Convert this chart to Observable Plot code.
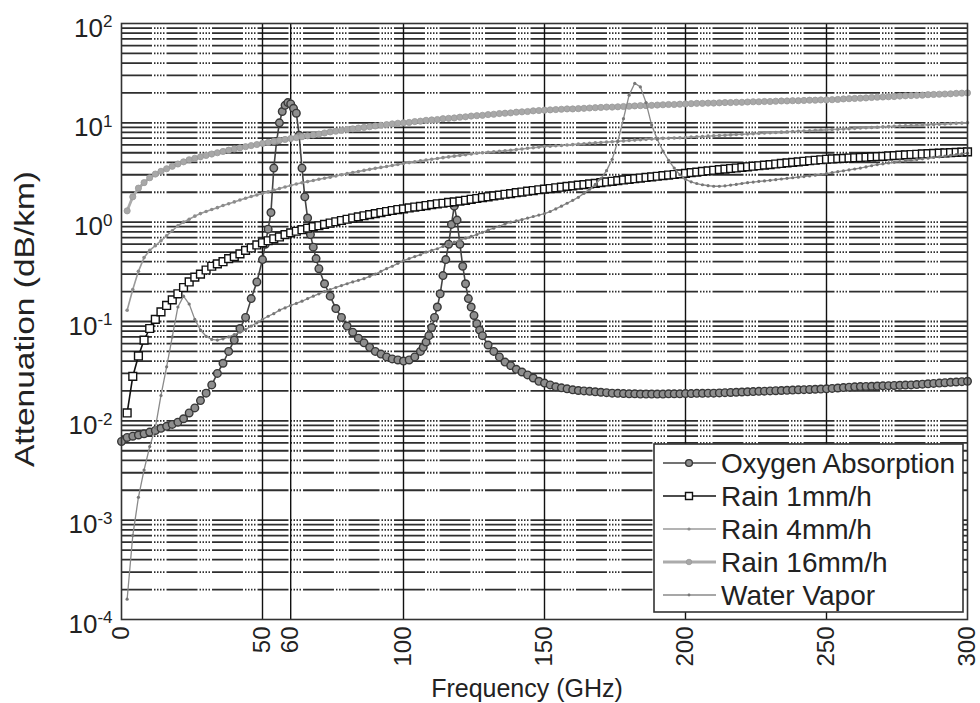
<!DOCTYPE html>
<html>
<head>
<meta charset="utf-8">
<script src="https://cdn.jsdelivr.net/npm/d3@7"></script>
<script src="https://cdn.jsdelivr.net/npm/@observablehq/plot@0.6"></script>
<style>
  body { margin: 0; background: #fff; }
  #chart { position: relative; width: 980px; height: 703px; }
  #chart svg { overflow: visible; }
</style>
</head>
<body>
<div id="chart"></div>
<script>
// Tick and grid positions
const xTickValues = [0, 50, 60, 100, 150, 200, 250, 300];
const xGridValues = [50, 60, 100, 150, 200, 250];
const yDecades = [1e-4, 1e-3, 1e-2, 1e-1, 1, 10, 100];

const seriesNames = ["Oxygen Absorption", "Rain 1mm/h", "Rain 4mm/h", "Rain 16mm/h", "Water Vapor"];

// Oxygen absorption (dB/km), sampled finer around the 60 and 118.75 GHz lines
const oxygenGHz = [
  ...d3.range(0, 50, 2), ...d3.range(50, 71, 1), ...d3.range(72, 107, 2),
  ...d3.range(107, 129, 1), ...d3.range(130, 301, 2)
];
const oxygenDb = [
  // 0 – 48 GHz
  0.0062, 0.0068, 0.0070, 0.0072, 0.0074, 0.0077, 0.0080, 0.0084, 0.0088, 0.0092,
  0.0097, 0.0105, 0.012, 0.0135, 0.016, 0.019, 0.023, 0.030, 0.038, 0.050,
  0.065, 0.085, 0.11, 0.17, 0.25,
  // 50 – 70 GHz
  0.42, 0.60, 0.85, 1.25, 3.5, 6.5, 10, 13, 15, 16, 15.5, 14, 12.5, 7.5, 3.5, 1.8, 1.1, 0.75, 0.56, 0.43, 0.34,
  // 72 – 106 GHz
  0.24, 0.18, 0.135, 0.11, 0.09, 0.078, 0.068, 0.061, 0.055, 0.05, 0.047, 0.044, 0.042, 0.041, 0.040, 0.041, 0.044, 0.05,
  // 107 – 128 GHz
  0.055, 0.062, 0.072, 0.087, 0.11, 0.14, 0.19, 0.29, 0.42, 0.6, 0.95, 1.45, 1.05, 0.6, 0.36, 0.24, 0.17, 0.14, 0.115, 0.095, 0.082, 0.072,
  // 130 – 300 GHz
  0.058, 0.050, 0.044, 0.039, 0.036, 0.033, 0.031, 0.029, 0.027, 0.025,
  0.024, 0.023, 0.022, 0.0215, 0.021, 0.0205, 0.0202, 0.020, 0.0198, 0.0196,
  0.0194, 0.0192, 0.019, 0.0189, 0.0188, 0.0187, 0.0187, 0.0186, 0.0186, 0.0186,
  0.0186, 0.0186, 0.0187, 0.0187, 0.0187, 0.0188, 0.0188, 0.0189, 0.0189, 0.019,
  0.019, 0.0191, 0.0192, 0.0193, 0.0194, 0.0195, 0.0196, 0.0197, 0.0198, 0.0199,
  0.020, 0.0201, 0.0202, 0.0203, 0.0204, 0.0205, 0.0206, 0.0207, 0.0208, 0.0209,
  0.021, 0.0212, 0.0214, 0.0216, 0.0218, 0.022, 0.0221, 0.0222, 0.0223, 0.0224,
  0.0225, 0.0226, 0.0227, 0.0228, 0.0229, 0.023, 0.0232, 0.0234, 0.0236, 0.0238,
  0.024, 0.0242, 0.0244, 0.0246, 0.0248, 0.025
];

// Rain and water vapour share a 2 GHz frequency grid (2 … 300 GHz)
const gridGHz = d3.range(2, 301, 2);

const rain1Db = [
  0.012, 0.028, 0.045, 0.065, 0.085, 0.105, 0.125, 0.145, 0.165, 0.19,
  0.22, 0.25, 0.28, 0.30, 0.33, 0.36, 0.38, 0.40, 0.43, 0.45,
  0.48, 0.52, 0.55, 0.59, 0.62, 0.65, 0.68, 0.71, 0.75, 0.78,
  0.81, 0.84, 0.87, 0.90, 0.92, 0.95, 0.98, 1.01, 1.04, 1.07,
  1.10, 1.13, 1.16, 1.19, 1.22, 1.25, 1.28, 1.31, 1.34, 1.36,
  1.39, 1.42, 1.44, 1.47, 1.50, 1.53, 1.55, 1.58, 1.60, 1.63,
  1.66, 1.70, 1.73, 1.77, 1.80, 1.84, 1.87, 1.91, 1.94, 1.98,
  2.01, 2.05, 2.08, 2.12, 2.15, 2.18, 2.22, 2.25, 2.29, 2.32,
  2.36, 2.39, 2.43, 2.46, 2.50, 2.54, 2.58, 2.62, 2.66, 2.70,
  2.74, 2.78, 2.82, 2.86, 2.90, 2.94, 2.98, 3.02, 3.06, 3.10,
  3.15, 3.19, 3.24, 3.28, 3.33, 3.38, 3.42, 3.47, 3.51, 3.56,
  3.61, 3.66, 3.70, 3.75, 3.80, 3.85, 3.90, 3.95, 4.00, 4.05,
  4.10, 4.15, 4.20, 4.25, 4.30, 4.33, 4.36, 4.39, 4.42, 4.45,
  4.48, 4.51, 4.54, 4.57, 4.60, 4.64, 4.68, 4.72, 4.76, 4.80,
  4.83, 4.86, 4.89, 4.92, 4.95, 4.98, 5.01, 5.04, 5.07, 5.10
];

const rain4Db = [
  0.13, 0.21, 0.32, 0.44, 0.52, 0.58, 0.65, 0.73, 0.82, 0.92,
  1.00, 1.07, 1.15, 1.22, 1.28, 1.34, 1.40, 1.47, 1.53, 1.60,
  1.67, 1.74, 1.81, 1.88, 1.95, 2.02, 2.10, 2.18, 2.26, 2.34,
  2.42, 2.49, 2.56, 2.63, 2.70, 2.77, 2.84, 2.92, 3.00, 3.08,
  3.16, 3.24, 3.32, 3.40, 3.48, 3.56, 3.64, 3.72, 3.81, 3.90,
  3.98, 4.06, 4.14, 4.22, 4.30, 4.38, 4.46, 4.54, 4.62, 4.70,
  4.78, 4.86, 4.94, 5.00, 5.06, 5.12, 5.18, 5.24, 5.30, 5.38,
  5.46, 5.54, 5.62, 5.70, 5.78, 5.82, 5.87, 5.92, 5.98, 6.04,
  6.10, 6.16, 6.22, 6.28, 6.34, 6.40, 6.46, 6.52, 6.58, 6.64,
  6.70, 6.76, 6.82, 6.88, 6.94, 6.98, 7.00, 7.04, 7.08, 7.12,
  7.18, 7.23, 7.29, 7.34, 7.40, 7.45, 7.51, 7.56, 7.62, 7.67,
  7.73, 7.78, 7.84, 7.89, 7.95, 8.00, 8.06, 8.11, 8.17, 8.22,
  8.28, 8.33, 8.39, 8.44, 8.50, 8.56, 8.62, 8.68, 8.74, 8.80,
  8.86, 8.92, 8.98, 9.04, 9.10, 9.16, 9.22, 9.28, 9.34, 9.40,
  9.46, 9.52, 9.58, 9.64, 9.70, 9.76, 9.82, 9.88, 9.94, 10.0
];

const rain16Db = [
  1.30, 1.80, 2.20, 2.50, 2.80, 3.05, 3.25, 3.45, 3.65, 3.85,
  4.05, 4.25, 4.40, 4.55, 4.70, 4.85, 5.00, 5.15, 5.30, 5.45,
  5.60, 5.75, 5.90, 6.05, 6.20, 6.35, 6.50, 6.65, 6.80, 6.95,
  7.10, 7.25, 7.40, 7.55, 7.70, 7.90, 8.10, 8.25, 8.40, 8.55,
  8.70, 8.85, 9.00, 9.15, 9.30, 9.45, 9.60, 9.75, 9.90, 10.0,
  10.1, 10.3, 10.4, 10.6, 10.7, 10.8, 11.0, 11.1, 11.2, 11.4,
  11.5, 11.7, 11.8, 11.9, 12.1, 12.2, 12.4, 12.5, 12.6, 12.8,
  12.9, 13.0, 13.2, 13.3, 13.4, 13.5, 13.6, 13.7, 13.8, 13.8,
  13.9, 14.0, 14.1, 14.2, 14.3, 14.4, 14.4, 14.5, 14.6, 14.7,
  14.8, 14.9, 14.9, 15.0, 15.1, 15.2, 15.3, 15.3, 15.4, 15.5,
  15.6, 15.7, 15.7, 15.8, 15.8, 15.9, 16.0, 16.0, 16.1, 16.1,
  16.2, 16.3, 16.3, 16.4, 16.4, 16.5, 16.6, 16.6, 16.7, 16.7,
  16.8, 16.9, 16.9, 17.0, 17.0, 17.1, 17.2, 17.4, 17.5, 17.6,
  17.7, 17.8, 18.0, 18.1, 18.2, 18.3, 18.4, 18.6, 18.7, 18.8,
  18.9, 19.0, 19.2, 19.3, 19.4, 19.5, 19.6, 19.8, 19.9, 20.0
];

const vaporDb = [
  0.00016, 0.0007, 0.0017, 0.0032, 0.0055, 0.0085, 0.018, 0.035, 0.07, 0.14,
  0.18, 0.15, 0.105, 0.082, 0.071, 0.066, 0.065, 0.067, 0.070, 0.074,
  0.078, 0.083, 0.090, 0.097, 0.105, 0.113, 0.120, 0.130, 0.137, 0.145,
  0.152, 0.16, 0.17, 0.18, 0.19, 0.20, 0.21, 0.22, 0.23, 0.24,
  0.25, 0.26, 0.27, 0.285, 0.30, 0.32, 0.34, 0.36, 0.385, 0.41,
  0.43, 0.45, 0.47, 0.50, 0.52, 0.54, 0.57, 0.60, 0.63, 0.66,
  0.69, 0.72, 0.75, 0.79, 0.83, 0.87, 0.91, 0.96, 1.00, 1.03,
  1.06, 1.10, 1.14, 1.18, 1.22, 1.28, 1.36, 1.45, 1.55, 1.66,
  1.78, 1.95, 2.15, 2.40, 2.75, 3.30, 4.30, 6.50, 11.0, 19.0,
  25.0, 23.0, 16.0, 9.5, 6.8, 5.2, 4.2, 3.5, 3.0, 2.7,
  2.55, 2.45, 2.38, 2.33, 2.30, 2.30, 2.32, 2.36, 2.40, 2.45,
  2.50, 2.53, 2.57, 2.60, 2.64, 2.68, 2.72, 2.76, 2.80, 2.84,
  2.88, 2.92, 2.97, 3.02, 3.08, 3.15, 3.22, 3.29, 3.36, 3.43,
  3.50, 3.60, 3.70, 3.80, 3.87, 3.94, 4.00, 4.07, 4.14, 4.20,
  4.27, 4.34, 4.41, 4.48, 4.55, 4.62, 4.70, 4.78, 4.86, 4.95
];

// Per-series drawing styles
const styles = {
  "Oxygen Absorption": {line: "#444",    width: 1.6, symbol: "circle", r: 3.8, fill: "#8e8e8e", stroke: "#383838", sw: 1.4},
  "Rain 1mm/h":        {line: "#111",    width: 1.6, symbol: "square", r: 4.4, fill: "#fff",    stroke: "#111", sw: 1.4},
  "Rain 4mm/h":        {line: "#9a9a9a", width: 1.6, symbol: "circle", r: 1.8, fill: "#8c8c8c", stroke: "none", sw: 0},
  "Rain 16mm/h":       {line: "#ababab", width: 2.8, symbol: "circle", r: 3.1, fill: "#a8a8a8", stroke: "#999", sw: 0.8},
  "Water Vapor":       {line: "#8a8a8a", width: 1.3, symbol: "circle", r: 1.6, fill: "#777",    stroke: "none", sw: 0}
};

const toRows = (name, ghz, db) => ghz.map((f, i) => ({series: name, f, a: db[i]}));
const data = {
  "Oxygen Absorption": toRows("Oxygen Absorption", oxygenGHz, oxygenDb),
  "Rain 1mm/h": toRows("Rain 1mm/h", gridGHz, rain1Db),
  "Rain 4mm/h": toRows("Rain 4mm/h", gridGHz, rain4Db),
  "Rain 16mm/h": toRows("Rain 16mm/h", gridGHz, rain16Db),
  "Water Vapor": toRows("Water Vapor", gridGHz, vaporDb)
};

// Horizontal grid at every decade and every 2…9 step inside it
const yGridValues = yDecades.slice(0, -1).flatMap(d => d3.range(1, 10).map(k => k * d)).filter(v => v > 1e-4);

const seriesMarks = seriesNames.flatMap(name => {
  const s = styles[name];
  return [
    Plot.line(data[name], {x: "f", y: "a", stroke: s.line, strokeWidth: s.width}),
    Plot.dot(data[name], {x: "f", y: "a", symbol: () => s.symbol, r: s.r, fill: s.fill, stroke: s.stroke, strokeWidth: s.sw})
  ];
});

const chart = Plot.plot({
  width: 980,
  height: 703,
  marginLeft: 121,
  marginRight: 13,
  marginTop: 23,
  marginBottom: 84,
  style: {fontFamily: "'Liberation Sans', Arial, Helvetica, sans-serif", background: "#fff", color: "#222"},
  x: {domain: [0, 300]},
  y: {type: "log", domain: [1e-4, 100]},
  marks: [
    Plot.ruleY(yGridValues, {stroke: "#2e2e2e", strokeWidth: 1.8, strokeDasharray: "31,2,1.5,1.5,1.5,1.5,1.5,1.5,1.5,2"}),
    Plot.ruleX(xGridValues, {stroke: "#111", strokeWidth: 1.4}),
    ...seriesMarks,
    Plot.frame({stroke: "#333", strokeWidth: 1.6}),
    Plot.axisX(xTickValues, {tickSize: 0, tickPadding: 7, tickRotate: -90, fontSize: 24, label: null, fill: "#222"}),
    Plot.axisY(yDecades, {tickSize: 0, tickPadding: 9, dy: 5, fontSize: 26, label: null, fill: "#222",
      tickFormat: d => String(Math.round(Math.log10(d)))})
  ]
});

const svg = d3.select(chart);

// Decade labels as 10 with a raised exponent
svg.selectAll('g[aria-label="y-axis tick label"] text').each(function() {
  const exp = this.textContent;
  const t = d3.select(this).text("");
  t.append("tspan").text("10");
  t.append("tspan").attr("dy", "-0.55em").attr("font-size", "17px").text(exp);
});

// Axis titles
svg.append("text")
  .attr("x", 527).attr("y", 697)
  .attr("text-anchor", "middle")
  .attr("font-size", 25).attr("fill", "#222")
  .text("Frequency (GHz)");
svg.append("text")
  .attr("transform", "translate(34,319) rotate(-90)")
  .attr("text-anchor", "middle")
  .attr("font-size", 28).attr("fill", "#222")
  .attr("textLength", 296).attr("lengthAdjust", "spacingAndGlyphs")
  .text("Attenuation (dB/km)");

// Legend box
const lg = svg.append("g").attr("transform", "translate(654,444)");
lg.append("rect").attr("width", 309).attr("height", 168).attr("fill", "#fff").attr("stroke", "#333").attr("stroke-width", 1.6);
seriesNames.forEach((name, i) => {
  const s = styles[name];
  const y = 19 + i * 33;
  lg.append("line").attr("x1", 9).attr("x2", 62).attr("y1", y).attr("y2", y)
    .attr("stroke", s.line).attr("stroke-width", s.width);
  const sym = d3.symbol(s.symbol === "square" ? d3.symbolSquare : d3.symbolCircle, s.r * s.r * Math.PI * 0.8);
  lg.append("path").attr("d", sym()).attr("transform", `translate(35,${y})`)
    .attr("fill", s.fill).attr("stroke", s.stroke).attr("stroke-width", s.sw);
  lg.append("text").attr("x", 67).attr("y", y).attr("dy", "0.36em")
    .attr("text-anchor", "start")
    .attr("font-size", 28).attr("fill", "#222")
    .attr("textLength", name === "Oxygen Absorption" ? 234 : null)
    .text(name);
});

document.getElementById("chart").append(chart);
</script>
</body>
</html>
